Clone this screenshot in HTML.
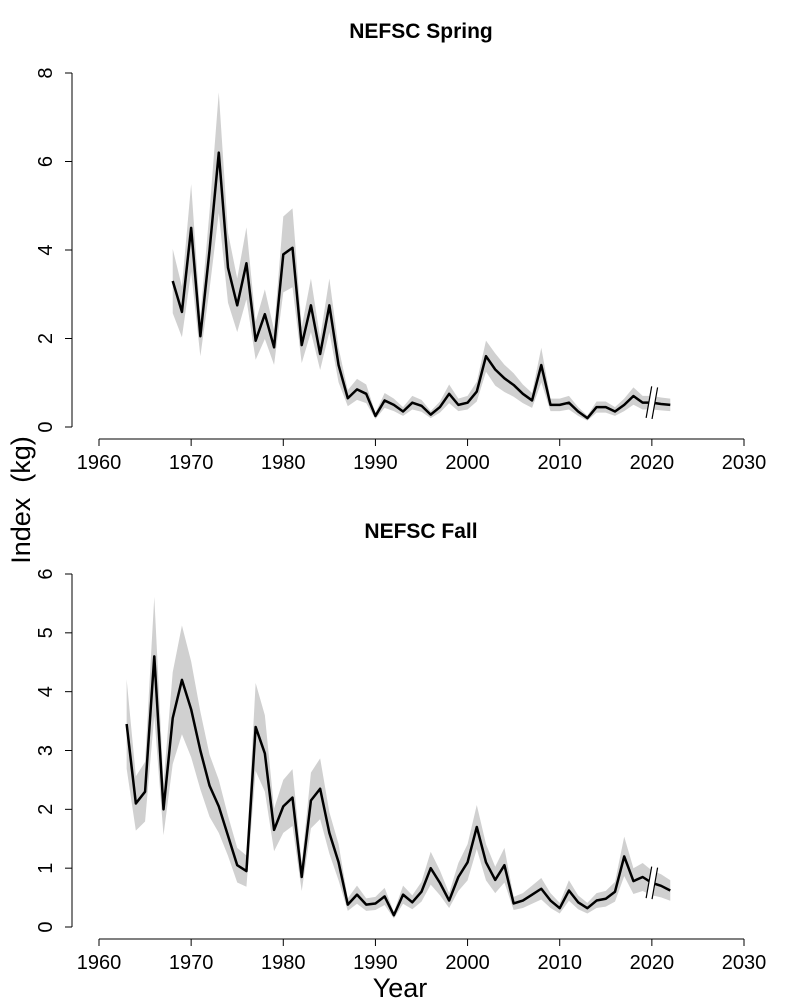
<!DOCTYPE html><html><head><style>body{margin:0;background:#fff}</style></head><body>
<svg id="s" width="800" height="1000" xmlns="http://www.w3.org/2000/svg" font-family="Liberation Sans, sans-serif"></svg>
<script>
const s=document.getElementById('s');let h='';
const X=y=>99+(y-1960)*645/70;
function panel(y0,ymax,ytop,step,start,vals,title,ty){
 const Y=v=>y0-(v/ymax)*(y0-ytop);
 let up=[],lo=[];
 vals.forEach((v,i)=>{const yr=start+i;const f=v>1.5?0.22:0.28;up.push(X(yr)+','+Y(v*(1+f)));lo.unshift(X(yr)+','+Y(v*(1-f)));});
 h+=`<polygon points="${up.join(' ')} ${lo.join(' ')}" fill="#d0d0d0"/>`;
 h+=`<polyline points="${vals.map((v,i)=>X(start+i)+','+Y(v)).join(' ')}" fill="none" stroke="#000" stroke-width="2.5" stroke-linejoin="round"/>`;
 const bx=X(2020),by=Y(vals[2020-start]);
 h+=`<rect x="${bx-3}" y="${by-16}" width="6" height="32" fill="#fff" transform="rotate(10 ${bx} ${by})"/>`;
 h+=`<line x1="${bx-3}" y1="${by-16}" x2="${bx-3}" y2="${by+16}" stroke="#000" stroke-width="1.2" transform="rotate(10 ${bx} ${by})"/>`;
 h+=`<line x1="${bx+3}" y1="${by-16}" x2="${bx+3}" y2="${by+16}" stroke="#000" stroke-width="1.2" transform="rotate(10 ${bx} ${by})"/>`;
 h+=`<line x1="72" y1="${y0}" x2="72" y2="${ytop}" stroke="#000"/>`;
 for(let v=0;v<=ymax;v+=step){const yy=Y(v);h+=`<line x1="65" y1="${yy}" x2="72" y2="${yy}" stroke="#000"/><text x="52" y="${yy}" font-size="20" text-anchor="middle" transform="rotate(-90 52 ${yy})">${v}</text>`;}
 const xa=y0+12;h+=`<line x1="99" y1="${xa}" x2="744" y2="${xa}" stroke="#000"/>`;
 for(let yr=1960;yr<=2030;yr+=10){h+=`<line x1="${X(yr)}" y1="${xa}" x2="${X(yr)}" y2="${xa+7}" stroke="#000"/><text x="${X(yr)}" y="${xa+30}" font-size="20" text-anchor="middle">${yr}</text>`;}
 h+=`<text x="421" y="${ty}" font-size="21" font-weight="bold" text-anchor="middle">${title}</text>`;
}
const sp=[3.3,2.6,4.5,2.05,4.0,6.2,3.6,2.75,3.7,1.95,2.55,1.8,3.9,4.05,1.85,2.75,1.65,2.75,1.4,0.65,0.85,0.75,0.25,0.6,0.5,0.35,0.55,0.48,0.28,0.45,0.75,0.5,0.55,0.8,1.6,1.3,1.1,0.95,0.75,0.6,1.4,0.5,0.5,0.55,0.35,0.2,0.45,0.45,0.35,0.5,0.7,0.55,0.55,0.52,0.5];
const fa=[3.45,2.1,2.3,4.6,2.0,3.55,4.2,3.7,3.0,2.4,2.05,1.55,1.05,0.95,3.4,2.95,1.65,2.05,2.2,0.85,2.15,2.35,1.6,1.1,0.38,0.55,0.38,0.4,0.52,0.2,0.55,0.42,0.6,1.0,0.75,0.45,0.85,1.1,1.7,1.1,0.8,1.05,0.4,0.45,0.55,0.65,0.45,0.32,0.62,0.42,0.32,0.45,0.48,0.6,1.2,0.78,0.85,0.75,0.7,0.62];
panel(427,8,73,2,1968,sp,'NEFSC Spring',38);
panel(927,6,574,1,1963,fa,'NEFSC Fall',538);
h+=`<text x="30" y="500" font-size="27" text-anchor="middle" transform="rotate(-90 30 500)" xml:space="preserve">Index  (kg)</text>`;
h+=`<text x="400" y="997" font-size="27" text-anchor="middle">Year</text>`;
s.innerHTML=h;
</script></body></html>
